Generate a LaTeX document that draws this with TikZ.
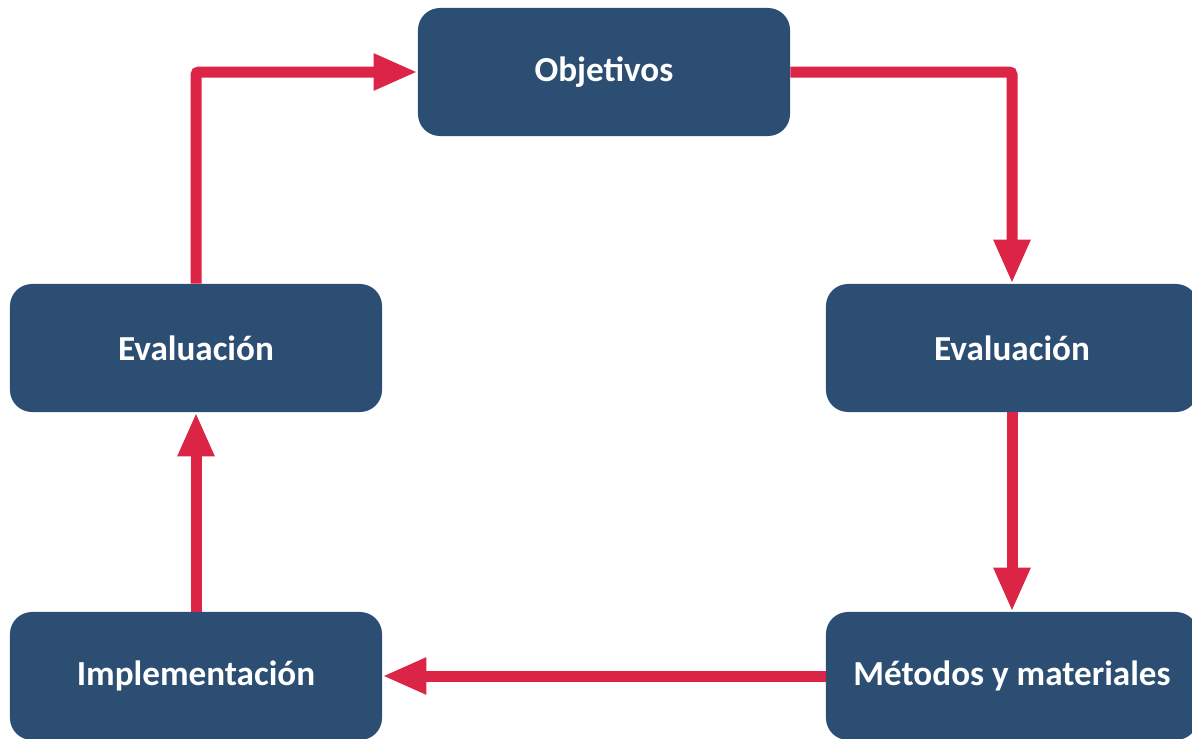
\documentclass[tikz,border=0pt]{standalone}
\usepackage{fontspec}
\setmainfont{Carlito}
\usetikzlibrary{positioning,arrows.meta}
\definecolor{boxblue}{HTML}{2D4E73}
\definecolor{arrred}{HTML}{DC2446}

\begin{document}
\begin{tikzpicture}[x=0.025cm,y=-0.025cm,
  etapa/.style={fill=boxblue, rounded corners=0.55cm, minimum width=9.3cm,
    minimum height=3.2cm, inner sep=0pt, text=white, font=\fontsize{25}{30}\selectfont\bfseries},
  flecha/.style={draw=arrred, line width=0.275cm, rounded corners=2pt,
    -{Triangle[length=1.1cm,width=0.85cm]}}]
\useasboundingbox (0,0) rectangle (1192,738);
\clip (0,0) rectangle (1192,738);
%boxes
\node[etapa] (obj) at (604,72) {Objetivos};
\node[etapa] (evall) at (196,348) {Evaluación};
\node[etapa] (evalr) at (1012,348) {Evaluación};
\node[etapa] (impl) at (196,676) {Implementación};
\node[etapa] (metodos) at (1012,676) {Métodos y materiales};
%arrows
\draw[flecha] (obj.east) -| (evalr.north);
\draw[flecha] (evalr.south) -- (metodos.north);
\draw[flecha] (metodos.west) -- (impl.east);
\draw[flecha] (impl.north) -- (evall.south);
\draw[flecha] (evall.north) |- (obj.west);
\end{tikzpicture}
\end{document}
